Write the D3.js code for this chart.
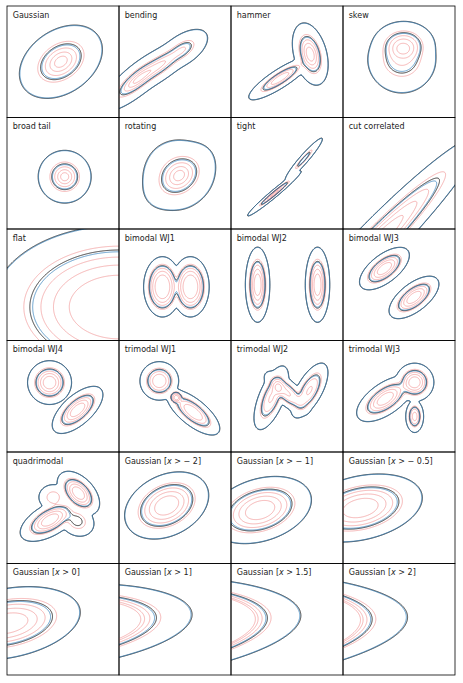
<!DOCTYPE html>
<html>
<head>
<meta charset="UTF-8">
<title>Density contours</title>
<script src="https://cdn.jsdelivr.net/npm/d3@7"></script>
<style>
  body { margin: 0; background: #fff; }
  .title { font-family: "DejaVu Sans", sans-serif; font-size: 8px; fill: #222; }
  .frame { fill: none; stroke: #000; stroke-width: 0.8; }
  .truth { fill: none; stroke: #f08585; stroke-opacity: 0.85; stroke-width: 0.7; }
  .model-a { fill: none; stroke: #1b1b1b; stroke-width: 0.85; }
  .model-b { fill: none; stroke: #2a7ab9; stroke-width: 0.85; stroke-opacity: 0.85; }
</style>
</head>
<body>
<div id="chart"></div>
<script>
var width = 463, height = 683;
var margin = { left: 7, top: 6 };
var cellW = 112, cellH = 111.5;
var cols = 4;

var titles = [
  'Gaussian', 'bending', 'hammer', 'skew',
  'broad tail', 'rotating', 'tight', 'cut correlated',
  'flat', 'bimodal WJ1', 'bimodal WJ2', 'bimodal WJ3',
  'bimodal WJ4', 'trimodal WJ1', 'trimodal WJ2', 'trimodal WJ3',
  'quadrimodal', 'Gaussian [x > \u2212 2]', 'Gaussian [x > \u2212 1]', 'Gaussian [x > \u2212 0.5]',
  'Gaussian [x > 0]', 'Gaussian [x > 1]', 'Gaussian [x > 1.5]', 'Gaussian [x > 2]'
];

// contour levels, as fractions of the peak density
var truthLevels = [0.88, 0.68, 0.46, 0.18];
var modelLevels = [0.29, 0.0043];

// mixture components: [mx, my, s1, s2, angle (deg), amplitude, power]
var gaussian = [[-0.15, 0, 0.98, 0.68, 35, 1, 2]];
var bending = [
  [-2.7, -1.3, 1.0, 0.32, 40, 1, 2],
  [-1.0, -0.2, 1.0, 0.32, 36, 0.75, 2],
  [0.6, 0.9, 0.65, 0.34, 35, 0.45, 2]
];
var hammer = [
  [1.66, 0.55, 0.82, 0.42, 105, 1, 2.5],
  [-0.5, -1.2, 0.95, 0.24, 33, 0.85, 2.5]
];
var skew = [
  [0.35, 1.2, 0.8, 0.62, 0, 1, 2.5],
  [0.2, 0.2, 0.9, 0.85, 0, 0.6, 2.5],
  [0.2, 0.0, 1.0, 1.0, 0, 0.1, 2.5]
];
var broadTail = [[0.12, -0.25, 0.57, 0.57, 0, 1, 2]];
var rotating = [
  [0.3, -0.2, 0.9, 0.62, 40, 1, 2],
  [0.25, -0.1, 0.85, 0.65, 0, 0.25, 2],
  [0.25, -0.1, 0.85, 0.65, 90, 0.25, 2],
  [0.2, 0, 1.05, 0.8, -45, 0.06, 2]
];
var tight = [
  [-0.9, -1.45, 0.75, 0.08, 40, 1, 2],
  [1.2, 1.0, 0.65, 0.1, 49, 0.45, 2]
];
var cutCorrelated = [[-1.9, -5.3, 4.4, 0.62, 46, 1, 3]];
var flat = [[4.0, -1.6, 4.2, 2.7, 0, 1, 4]];
var bimodalWJ1 = [[-0.9, -0.15, 0.62, 1.0, 0, 1, 4], [1.1, -0.15, 0.62, 1.0, 0, 1, 4]];
var bimodalWJ2 = [[-2.1, 0, 0.35, 1.08, 0, 1, 3], [2.18, 0, 0.35, 1.08, 0, 1, 3]];
var bimodalWJ3 = [[-1.04, 1.16, 0.85, 0.4, 38, 1, 3], [1.07, -0.91, 0.85, 0.4, 38, 1, 3]];
var bimodalWJ4 = [[-0.96, 0.98, 0.63, 0.63, 0, 1, 3], [1.04, -0.98, 0.9, 0.42, 42, 1, 3]];
var trimodalWJ1 = [
  [-1.12, 1.1, 0.56, 0.56, 0, 1, 3],
  [0.07, -0.07, 0.23, 0.23, 0, 1, 3],
  [1.3, -1.15, 0.94, 0.38, -39, 1, 3]
];
var trimodalWJ2 = [
  [-1.12, -0.11, 1.0, 0.37, 68, 1, 3],
  [0.0, 0.25, 0.85, 0.35, -43, 1, 3],
  [1.6, 0.41, 0.9, 0.37, 61, 1, 3]
];
var trimodalWJ3 = [
  [1.12, 1.0, 0.55, 0.55, 0, 1, 3],
  [-0.98, -0.18, 0.95, 0.45, 35, 1, 3],
  [1.12, -1.45, 0.47, 0.26, 90, 0.75, 3]
];
var quadrimodal = [
  [1.1, 1.05, 0.75, 0.45, -47, 1, 3],
  [-0.93, -0.88, 0.95, 0.45, 30, 1, 3],
  [1.0, -0.95, 0.55, 0.45, -30, 0.3, 3],
  [-0.7, 0.75, 0.45, 0.4, 0, 0.25, 3]
];

// truncated Gaussian panels
var cutGaussian = [[0, 0, 1.04, 0.65, 70, 1, 3]];
var cuts = [-2, -1, -0.5, 0, 1, 1.5, 2];
var cutXMax = [2.7, 2.85, 2.7, 2.7, 2.47, 2.63, 2.81];
var cutYMid = [-0.17, 0.17, 0.02, 0.28, 0.54, 0.73, 0.94];
var cutYHalf = [4.15, 4.15, 4.1, 3.8, 3.5, 3.1, 2.8];
var cutShift = [0, 0, 0, 0, 2, 5.2, 9.5];

var shapes = [gaussian, bending, hammer, skew, broadTail, rotating, tight, cutCorrelated,
  flat, bimodalWJ1, bimodalWJ2, bimodalWJ3, bimodalWJ4, trimodalWJ1, trimodalWJ2, trimodalWJ3,
  quadrimodal];

var panels = shapes.map(function(c) {
  return { comps: c, x: [-4, 4], y: [-4, 4], shift: 0 };
});
cuts.forEach(function(t, k) {
  panels.push({
    comps: cutGaussian,
    x: [t, cutXMax[k]],
    y: [cutYMid[k] - cutYHalf[k], cutYMid[k] + cutYHalf[k]],
    shift: cutShift[k]
  });
});
panels.forEach(function(p, i) { p.title = titles[i]; });

function density(comps, x, y) {
  var v = 0;
  for (var k = 0; k < comps.length; k++) {
    var c = comps[k];
    var dx = x - c[0], dy = y - c[1];
    var a = (dx * c.cs + dy * c.sn) / c[2];
    var b = (-dx * c.sn + dy * c.cs) / c[3];
    v += c[5] * Math.exp(-Math.pow((a * a + b * b) / 2, c[6] / 2));
  }
  return v;
}

var svg = d3.select('#chart')
  .append('svg')
    .attr('width', width)
    .attr('height', height);
var defs = svg.append('defs');

var N = 260, M = 260, pad = 4;
var gw = cellW + 2 * pad, gh = cellH + 2 * pad;
var project = d3.geoTransform({
  point: function(x, y) { this.stream.point(-pad + x * gw / N, -pad + y * gh / M); }
});
var path = d3.geoPath(project);

panels.forEach(function(p, i) {
  var col = i % cols, row = Math.floor(i / cols);
  var g = svg.append('g')
    .attr('transform', 'translate(' + (margin.left + col * cellW) + ',' + (margin.top + row * cellH) + ')');

  p.comps.forEach(function(c) {
    var th = c[4] * Math.PI / 180;
    c.cs = Math.cos(th); c.sn = Math.sin(th);
  });

  var xScale = d3.scaleLinear().domain(p.x).range([0, cellW]);
  var yScale = d3.scaleLinear().domain(p.y).range([cellH, 0]);

  var values = new Float64Array(N * M);
  var peak = 0;
  for (var j = 0; j < M; j++) {
    var yv = yScale.invert(-pad + (j + 0.5) * gh / M);
    for (var k = 0; k < N; k++) {
      var v = density(p.comps, xScale.invert(-pad + (k + 0.5) * gw / N), yv);
      values[j * N + k] = v;
      if (v > peak) peak = v;
    }
  }
  p.comps.forEach(function(c) { peak = Math.max(peak, density(p.comps, c[0], c[1])); });
  peak *= Math.exp(-p.shift);

  defs.append('clipPath').attr('id', 'clip' + i)
    .append('rect').attr('width', cellW).attr('height', cellH);

  var body = g.append('g').attr('clip-path', 'url(#clip' + i + ')');
  var contours = d3.contours().size([N, M]);

  function draw(levels, factor, cls) {
    body.append('g').attr('class', cls)
      .selectAll('path')
      .data(contours.thresholds(levels.map(function(l) { return l * peak * factor; }))(values))
      .enter()
      .append('path')
      .attr('d', path);
  }
  draw(truthLevels, 1, 'truth');
  draw(modelLevels, 0.92, 'model-a');
  draw(modelLevels, 1.08, 'model-b');

  g.append('rect').attr('class', 'frame')
    .attr('width', cellW).attr('height', cellH);

  var text = g.append('text').attr('class', 'title')
    .attr('x', 5.7).attr('y', 11.6);
  var m = p.title.match(/^(.*\[)x(.*)$/);
  if (m) {
    text.append('tspan').text(m[1]);
    text.append('tspan').attr('font-style', 'italic').text('x');
    text.append('tspan').text(m[2]);
  } else {
    text.text(p.title);
  }
});
</script>
</body>
</html>
